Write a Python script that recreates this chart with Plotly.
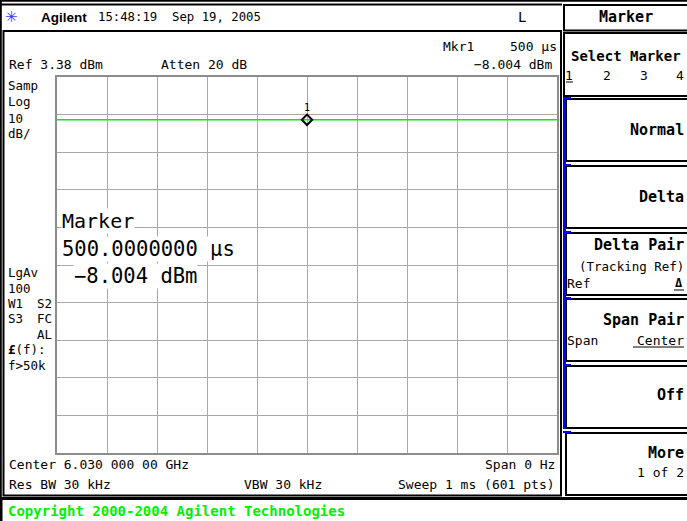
import plotly.graph_objects as go

# Instrument settings
ref_level_dbm = 3.38
db_per_div = 10
n_divs = 10
sweep_us = 1000

# Zero-span trace (time in microseconds, amplitude in dBm)
trace_time_us = [0, 250, 500, 750, 1000]
trace_dbm = [-8.004, -8.004, -8.004, -8.004, -8.004]

# Marker 1
marker_time_us = [500]
marker_dbm = [-8.004]

W, H = 687, 521
L, R, T, B = 57, 557, 77, 453  # graticule edges in pixels

MONO = "DejaVu Sans Mono"


def X(px):
    return (px - L) / (R - L)


def Y(py):
    return (B - py) / (B - T)


fig = go.Figure()

fig.add_trace(go.Scatter(
    x=trace_time_us, y=trace_dbm, mode="lines",
    line=dict(color="#10e810", width=1.4), hoverinfo="skip", showlegend=False))

fig.add_trace(go.Scatter(
    x=marker_time_us, y=marker_dbm, mode="markers+text",
    marker=dict(symbol="diamond-open", size=8, color="black",
                line=dict(color="black", width=2)),
    text=["1"], textposition="top center",
    textfont=dict(family=MONO, size=10, color="black"),
    hoverinfo="skip", showlegend=False, cliponaxis=False))

bottom = ref_level_dbm - db_per_div * n_divs
fig.update_xaxes(range=[0, sweep_us], dtick=sweep_us / n_divs, tick0=0,
                 showgrid=True, gridcolor="#a8a8a8", gridwidth=1,
                 showticklabels=False, ticks="", zeroline=False,
                 showline=True, mirror=True, linecolor="#8c8c8c", linewidth=2)
fig.update_yaxes(range=[bottom, ref_level_dbm], dtick=db_per_div, tick0=ref_level_dbm,
                 showgrid=True, gridcolor="#a8a8a8", gridwidth=1,
                 showticklabels=False, ticks="", zeroline=False,
                 showline=True, mirror=True, linecolor="#8c8c8c", linewidth=2)

shapes = []


def hline(x0, x1, y, w=2, color="black"):
    shapes.append(dict(type="line", xref="paper", yref="paper",
                       x0=X(x0), x1=X(x1), y0=Y(y), y1=Y(y),
                       line=dict(color=color, width=w)))


def vline(x, y0, y1, w=2, color="black"):
    shapes.append(dict(type="line", xref="paper", yref="paper",
                       x0=X(x), x1=X(x), y0=Y(y0), y1=Y(y1),
                       line=dict(color=color, width=w)))


def box(x0, y0, x1, y1, w=2, color="black"):
    shapes.append(dict(type="rect", xref="paper", yref="paper",
                       x0=X(x0), x1=X(x1), y0=Y(y0), y1=Y(y1),
                       line=dict(color=color, width=w), fillcolor="rgba(0,0,0,0)"))


# outer frame
hline(0, W + 5, 0.8, w=2)
hline(0, 562, 4.5, w=2)
vline(0.8, 0, 499, w=2)
box(3.5, 31, 561, 495.5, w=2)
hline(0, W + 5, 498.5, w=3)
vline(1, 499, H + 5, w=3)

# softkey panel
box(564, 5, W + 10, 30.5, w=2)
box(564, 33, W + 10, 96, w=2)
key_tops = [98, 165, 232, 298, 365, 432]
for kt in key_tops:
    box(566, kt + 1, W + 10, kt + 63, w=2)
vline(564.5, 97, 429, w=3, color="#0000ff")
for kt in key_tops:
    hline(563, 571, kt, w=2, color="#0000ff")
# underlines for active selections
hline(566, 573, 82, w=1)
hline(674, 684, 290, w=1)
hline(633, 684, 347, w=1)

fig.update_layout(shapes=shapes)

ann = []


def txt(s, x, y, anchor="left", size=13, bold=False, color="black",
        family=MONO, bg=None):
    d = dict(text=f"<b>{s}</b>" if bold else s, xref="paper", yref="paper",
             x=X(x), y=Y(y), xanchor=anchor, yanchor="middle", showarrow=False,
             font=dict(family=family, size=size, color=color), borderpad=0)
    if bg:
        d["bgcolor"] = bg
    ann.append(d)


# header
txt("✳", 4, 17, size=15, color="#3a3aff", family="DejaVu Sans")
txt("Agilent", 40, 17, size=13.5, bold=True, family="Liberation Sans")
txt("15:48:19  Sep 19, 2005", 97, 17, size=12.3)
txt("L", 522, 17, anchor="center", size=14)

# settings readouts
txt("Ref 3.38 dBm", 8, 64)
txt("Atten 20 dB", 160, 64)
txt("Mkr1", 442, 46)
txt("500 µs", 558, 46, anchor="right")
txt("−8.004 dBm", 553, 64, anchor="right")

left_col = [("Samp", 85), ("Log", 101), ("10", 118), ("dB/", 133),
            ("LgAv", 272), ("100", 288), ("f>50k", 365)]
for s, y in left_col:
    txt(s, 7, y, size=12.5)
txt("W1", 7, 303, size=12.5)
txt("S2", 53, 303, anchor="right", size=12.5)
txt("S3", 7, 318, size=12.5)
txt("FC", 53, 318, anchor="right", size=12.5)
txt("AL", 53, 334, anchor="right", size=12.5)
txt("<b>£</b>(f):", 7, 349, size=12.5)

txt("Center 6.030 000 00 GHz", 8, 464)
txt("Span 0 Hz", 556, 464, anchor="right")
txt("Res BW 30 kHz", 8, 484)
txt("VBW 30 kHz", 243, 484)
txt("Sweep 1 ms (601 pts)", 556, 484, anchor="right")

# large marker readout
txt("Marker", 61, 221, size=20, bg="white")
txt("500.0000000 µs", 61, 249, size=20.5, bg="white")
txt("−8.004 dBm", 73, 276, size=20.5, bg="white")

# softkeys
RK = 685
txt("Marker", 626, 17, anchor="center", size=15, bold=True)
txt("Select Marker", 570, 56, size=14, bold=True)
for s, x in [("1", 569), ("2", 607), ("3", 644), ("4", 680)]:
    txt(s, x, 75, anchor="center", size=13)
txt("Normal", RK, 130, anchor="right", size=15, bold=True)
txt("Delta", RK, 197, anchor="right", size=15, bold=True)
txt("Delta Pair", RK, 245, anchor="right", size=15, bold=True)
txt("(Tracking Ref)", RK, 266, anchor="right", size=12.5)
txt("Ref", 566, 283, size=13)
txt("Δ", 679, 283, anchor="center", size=12, bold=True)
txt("Span Pair", RK, 320, anchor="right", size=15, bold=True)
txt("Span", 566, 340, size=13)
txt("Center", RK, 340, anchor="right", size=13)
txt("Off", RK, 395, anchor="right", size=15, bold=True)
txt("More", RK, 453, anchor="right", size=15, bold=True)
txt("1 of 2", RK, 472, anchor="right", size=13)

# footer
txt("Copyright 2000-2004 Agilent Technologies", 7, 511, size=14,
    bold=True, color="#00f000")

fig.update_layout(
    annotations=ann,
    width=W, height=H,
    margin=dict(l=L, r=W - R, t=T, b=H - B, pad=0),
    paper_bgcolor="white", plot_bgcolor="white",
    showlegend=False,
)

fig.write_html("out.html", config={"displayModeBar": False})
